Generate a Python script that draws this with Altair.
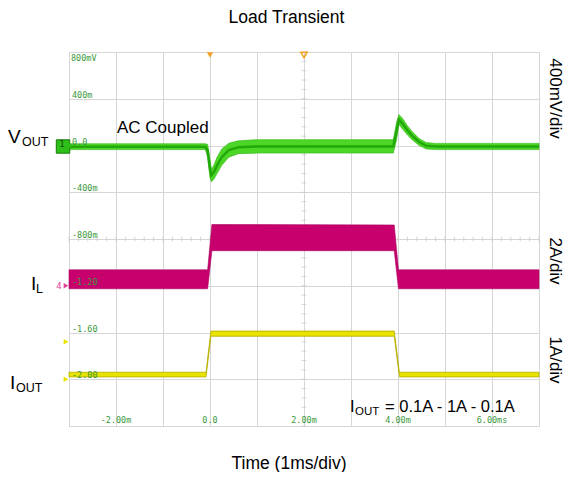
import altair as alt
import pandas as pd

SANS = "Liberation Sans"
MONO = "DejaVu Sans Mono"

# ---------------- data ----------------
# time in ms
vout_t = [-3.0, -0.10, -0.05, 0.00, 0.03, 0.08, 0.15, 0.25, 0.40, 0.60, 1.00, 2.00, 3.00,
          3.90, 3.97, 4.02, 4.10, 4.20, 4.30, 4.45, 4.60, 4.80, 7.0]
# VOUT (AC coupled), volts, upper / lower envelope of the trace
vout_hi = [0.015, 0.015, 0.010, -0.12, -0.20, -0.17, -0.10, -0.03, 0.02, 0.04, 0.05, 0.05, 0.05,
           0.05, 0.20, 0.265, 0.23, 0.17, 0.12, 0.06, 0.025, 0.018, 0.018]
vout_lo = [-0.035, -0.035, -0.10, -0.28, -0.31, -0.29, -0.24, -0.17, -0.10, -0.07, -0.065, -0.065, -0.065,
           -0.065, 0.05, 0.18, 0.14, 0.09, 0.05, 0.0, -0.03, -0.035, -0.035]

# inductor current IL, amps (envelope)
il_t = [-3.0, -0.05, 0.04, 3.92, 4.01, 7.0]
il_hi = [0.68, 0.68, 2.62, 2.60, 0.68, 0.68]
il_lo = [-0.13, -0.13, 1.50, 1.50, -0.13, -0.13]

# output current IOUT, amps (envelope)
iout_t = [-3.0, -0.085, 0.02, 3.92, 4.03, 7.0]
iout_hi = [0.15, 0.15, 1.03, 1.03, 0.15, 0.15]
iout_lo = [0.05, 0.05, 0.92, 0.92, 0.05, 0.05]

# channel display settings: zero position (in CH1 volts grid) and grid units per unit
vout_zero, vout_per = 0.0, 1.0         # 400 mV/div
il_zero, il_per = -1.2, 0.4 / 2.0      # 2 A/div
iout_zero, iout_per = -2.0, 0.4 / 1.0  # 1 A/div

# scope graticule labels
ylab_vals = [0.8, 0.4, 0.0, -0.4, -0.8, -1.2, -1.6, -2.0]
ylab_text = ["800mV", "400m", "0.0", "-400m", "-800m", "-1.20", "-1.60", "-2.00"]
xlab_vals = [-2, 0, 2, 4, 6]
xlab_text = ["-2.00m", "0.0", "2.00m", "4.00m", "6.00ms"]

XDOM = [-3, 7]
YDOM = [-2.4, 0.8]
W, H = 470, 374

# ---------------- frames ----------------
def band(t, hi, lo, zero, per):
    return pd.DataFrame({"t": t,
                         "hi": [zero + h * per for h in hi],
                         "lo": [zero + l * per for l in lo]})

d_vout = band(vout_t, vout_hi, vout_lo, vout_zero, vout_per)
d_vout["mid"] = (d_vout["hi"] + d_vout["lo"]) / 2
d_il = band(il_t, il_hi, il_lo, il_zero, il_per)
d_iout = band(iout_t, iout_hi, iout_lo, iout_zero, iout_per)

xs = alt.Scale(domain=XDOM, nice=False, zero=False)
ys = alt.Scale(domain=YDOM, nice=False, zero=False)
xaxis = alt.Axis(grid=True, labels=False, ticks=False, domain=False, title=None,
                 values=list(range(-3, 8)), gridColor="#d6d6d6", gridWidth=1)
yaxis = alt.Axis(grid=True, labels=False, ticks=False, domain=False, title=None,
                 values=[round(-2.4 + 0.4 * i, 2) for i in range(9)], gridColor="#d6d6d6", gridWidth=1)

def X(f="t"):
    return alt.X(f"{f}:Q", scale=xs, axis=xaxis)

def Y(f):
    return alt.Y(f"{f}:Q", scale=ys, axis=yaxis)

# minor ticks on centre graticule lines
tick_h = pd.DataFrame({"t": [round(-3 + 0.2 * i, 2) for i in range(51)], "v": [-0.8] * 51})
tick_v = pd.DataFrame({"t": [2.0] * 41, "v": [round(-2.4 + 0.08 * i, 3) for i in range(41)]})

minor1 = alt.Chart(tick_h).mark_tick(orient="vertical", size=5, thickness=1, color="#c8c8c8").encode(
    x=X(), y=Y("v"))
minor2 = alt.Chart(tick_v).mark_tick(orient="horizontal", size=5, thickness=1, color="#c8c8c8").encode(
    x=X(), y=Y("v"))

vout_area = alt.Chart(d_vout).mark_area(color="#4cd628", stroke="#2fb510", strokeWidth=0.6).encode(
    x=X(), y=Y("hi"), y2="lo")
vout_core = alt.Chart(d_vout).mark_line(color="#22a808", strokeWidth=2.5).encode(x=X(), y=Y("mid"))
il_area = alt.Chart(d_il).mark_area(color="#c8006e", stroke="#a8005c", strokeWidth=0.6).encode(
    x=X(), y=Y("hi"), y2="lo")
iout_area = alt.Chart(d_iout).mark_area(color="#e8e400", stroke="#b2aa00", strokeWidth=0.8).encode(
    x=X(), y=Y("hi"), y2="lo")

# graticule labels (inside the plot)
d_ylab = pd.DataFrame({"t": [XDOM[0]] * len(ylab_vals), "v": ylab_vals, "lab": ylab_text})
ylab_top = alt.Chart(d_ylab.iloc[:1]).mark_text(
    align="left", baseline="top", dx=2, dy=2, font=MONO, fontSize=8.5, color="#3a9a3a").encode(
    x=X(), y=Y("v"), text="lab:N")
ylab_rest = alt.Chart(d_ylab.iloc[1:]).mark_text(
    align="left", baseline="bottom", dx=3, dy=1, font=MONO, fontSize=8.5, color="#3a9a3a").encode(
    x=X(), y=Y("v"), text="lab:N")
d_xlab = pd.DataFrame({"t": xlab_vals, "v": [YDOM[0]] * len(xlab_vals), "lab": xlab_text})
xlab = alt.Chart(d_xlab).mark_text(
    align="center", baseline="bottom", dy=-1, font=MONO, fontSize=8.5, color="#3a9a3a").encode(
    x=X(), y=Y("v"), text="lab:N")

# channel / trigger markers
d_trig = pd.DataFrame({"t": [0.0], "v": [0.8]})
d_trig2 = pd.DataFrame({"t": [2.0], "v": [0.8]})
trig = alt.Chart(d_trig).mark_point(shape="triangle-down", size=40, filled=True, color="#f5a020",
                                     yOffset=3, opacity=1).encode(x=X(), y=Y("v"))
trig2 = alt.Chart(d_trig2).mark_point(shape="triangle-down", size=40, filled=False, color="#f5a020",
                                      strokeWidth=1.5, yOffset=3, opacity=1).encode(x=X(), y=Y("v"))
d_m1 = pd.DataFrame({"t": [XDOM[0]], "v": [vout_zero]})
m1 = alt.Chart(d_m1).mark_point(shape="square", size=180, filled=True, color="#2fbf1a",
                                stroke="#157a0a", strokeWidth=1, xOffset=-6, yOffset=1, opacity=1).encode(
    x=X(), y=Y("v"))
m1t = alt.Chart(d_m1).mark_text(text="1", fontSize=9, font=MONO, color="#0b4d05", xOffset=-7, yOffset=-2).encode(
    x=X(), y=Y("v"))
m1a = alt.Chart(d_m1).mark_point(shape="triangle-right", size=30, filled=True, color="#2fbf1a",
                                 xOffset=2, opacity=1).encode(x=X(), y=Y("v"))
d_m4 = pd.DataFrame({"t": [XDOM[0]], "v": [il_zero]})
m4 = alt.Chart(d_m4).mark_point(shape="triangle-right", size=30, filled=True, color="#e2409a",
                                xOffset=-3, opacity=1).encode(x=X(), y=Y("v"))
m4t = alt.Chart(d_m4).mark_text(text="4", fontSize=9, font=MONO, color="#e2409a", xOffset=-10).encode(
    x=X(), y=Y("v"))
d_m2 = pd.DataFrame({"t": [XDOM[0], XDOM[0]], "v": [-1.68, iout_zero]})
m2 = alt.Chart(d_m2).mark_point(shape="triangle-right", size=30, filled=True, color="#e8e400",
                                xOffset=-3, opacity=1).encode(x=X(), y=Y("v"))

# free text annotations (pixel positions relative to the plot area)
one = pd.DataFrame({"k": [0]})

def txt(s, x, y, size, align="left", baseline="alphabetic", angle=0, color="black"):
    kw = dict(text=s, fontSize=size, font=SANS, align=align, baseline=baseline, color=color)
    if angle:
        kw["angle"] = angle
    return alt.Chart(one).mark_text(**kw).encode(x=alt.value(x), y=alt.value(y))

texts = [
    txt("Load Transient", 217.5, -29, 17.5, align="center"),
    txt("Time (1ms/div)", 220, 417, 17.5, align="center"),
    txt("AC Coupled", 48, 81, 17),
    txt("V", -61, 90.5, 19),
    txt("OUT", -47, 93.5, 12.5),
    txt("I", -38, 237.5, 19),
    txt("L", -33, 240.5, 12.5),
    txt("I", -59, 336.5, 19),
    txt("OUT", -53, 339.5, 12.5),
    txt("I", 281, 360, 16.5),
    txt("OUT", 286, 362.5, 11.5),
    txt("= 0.1A - 1A - 0.1A", 316, 360, 16.5),
    txt("400mV/div", 486, 46.5, 17, align="center", baseline="middle", angle=90),
    txt("2A/div", 486, 209, 17, align="center", baseline="middle", angle=90),
    txt("1A/div", 486, 308, 17, align="center", baseline="middle", angle=90),
]

chart = alt.layer(
    minor1, minor2, vout_area, vout_core, il_area, iout_area,
    ylab_top, ylab_rest, xlab, trig, trig2, m1, m1t, m1a, m4, m4t, m2, *texts
).properties(
    width=W, height=H,
    autosize=alt.AutoSizeParams(type="none"),
    padding={"left": 61, "top": 44, "right": 25, "bottom": 46},
).configure_view(stroke="#555555", strokeWidth=1).configure(background="white")

chart.save("out.html", embed_options={"renderer": "svg", "actions": False})
